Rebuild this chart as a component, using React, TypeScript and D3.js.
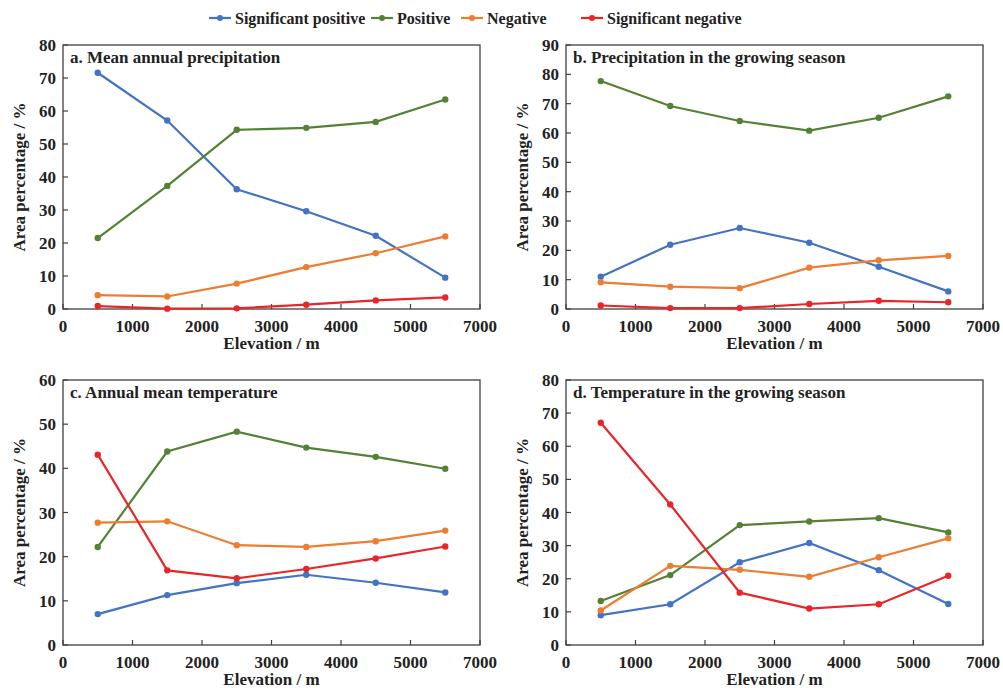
import React from 'react'
import * as d3 from 'd3'

const elevations = [500, 1500, 2500, 3500, 4500, 5500]
const seriesNames = ['Significant positive', 'Positive', 'Negative', 'Significant negative']
const colors = ['#4472C4', '#548235', '#ED7D31', '#E8262A']
// the original axis ends in "7000" where 6000 would sit
const xTickValues = [0, 1000, 2000, 3000, 4000, 5000, 6000]
const xTickLabels = ['0', '1000', '2000', '3000', '4000', '5000', '7000']

// panel a: mean annual precipitation
const aSigPos = [71.6, 57.1, 36.3, 29.6, 22.2, 9.5]
const aPos = [21.5, 37.3, 54.3, 54.9, 56.7, 63.5]
const aNeg = [4.2, 3.8, 7.7, 12.7, 16.9, 22.0]
const aSigNeg = [0.9, 0.1, 0.2, 1.3, 2.6, 3.5]

// panel b: precipitation in the growing season
const bSigPos = [11.0, 21.9, 27.6, 22.6, 14.4, 6.0]
const bPos = [77.7, 69.2, 64.1, 60.8, 65.2, 72.5]
const bNeg = [9.1, 7.6, 7.1, 14.1, 16.6, 18.1]
const bSigNeg = [1.2, 0.3, 0.3, 1.7, 2.8, 2.3]

// panel c: annual mean temperature
const cSigPos = [7.0, 11.3, 14.0, 15.9, 14.1, 11.9]
const cPos = [22.2, 43.8, 48.3, 44.7, 42.6, 39.9]
const cNeg = [27.7, 28.0, 22.6, 22.2, 23.5, 25.9]
const cSigNeg = [43.1, 16.9, 15.1, 17.2, 19.6, 22.3]

// panel d: temperature in the growing season
const dSigPos = [9.0, 12.3, 25.0, 30.8, 22.6, 12.4]
const dPos = [13.3, 21.1, 36.2, 37.3, 38.3, 34.0]
const dNeg = [10.4, 23.9, 22.7, 20.6, 26.5, 32.2]
const dSigNeg = [67.1, 42.4, 15.8, 11.0, 12.3, 20.9]

const panels = [
  { title: 'a. Mean annual precipitation', ymax: 80, series: [aSigPos, aPos, aNeg, aSigNeg], x0: 63, x1: 480, y0: 45, y1: 309 },
  { title: 'b. Precipitation in the growing season', ymax: 90, series: [bSigPos, bPos, bNeg, bSigNeg], x0: 566, x1: 983, y0: 45, y1: 309 },
  { title: 'c. Annual mean temperature', ymax: 60, series: [cSigPos, cPos, cNeg, cSigNeg], x0: 63, x1: 480, y0: 380, y1: 645 },
  { title: 'd. Temperature in the growing season', ymax: 80, series: [dSigPos, dPos, dNeg, dSigNeg], x0: 566, x1: 983, y0: 380, y1: 645 },
]

const font = 'Liberation Serif, DejaVu Serif, serif'
const axisColor = '#404040'
const textColor = '#222'

function T(props: any) {
  return <text fontFamily={font} fontSize={17} fontWeight="bold" fill={textColor} {...props} />
}

function Panel({ p }: { p: typeof panels[0] }) {
  const x = d3.scaleLinear().domain([0, 6000]).range([p.x0, p.x1])
  const y = d3.scaleLinear().domain([0, p.ymax]).range([p.y1, p.y0])
  const line = d3.line<number>().x((_, i) => x(elevations[i])).y(d => y(d))
  const yTicks = d3.range(0, p.ymax + 1, 10)
  return (
    <g>
      {xTickValues.map((t, i) => (
        <g key={'x' + t}>
          <line x1={x(t)} x2={x(t)} y1={p.y1} y2={p.y1 - 5} stroke={axisColor} strokeWidth={1.2} />
          <T x={x(t)} y={p.y1 + 23} textAnchor="middle">{xTickLabels[i]}</T>
        </g>
      ))}
      {yTicks.map(t => (
        <g key={'y' + t}>
          <line x1={p.x0} x2={p.x0 + 5} y1={y(t)} y2={y(t)} stroke={axisColor} strokeWidth={1.2} />
          <T x={p.x0 - 7} y={y(t) + 6} textAnchor="end">{t}</T>
        </g>
      ))}
      <rect x={p.x0} y={p.y0} width={p.x1 - p.x0} height={p.y1 - p.y0} fill="none" stroke={axisColor} strokeWidth={1.3} />
      <T x={p.x0 + 7} y={p.y0 + 18}>{p.title}</T>
      <T x={(p.x0 + p.x1) / 2} y={p.y1 + 40} textAnchor="middle">Elevation / m</T>
      <T transform={`translate(${p.x0 - 38},${(p.y0 + p.y1) / 2}) rotate(-90)`} textAnchor="middle">Area percentage / %</T>
      {p.series.map((s, k) => (
        <g key={k}>
          <path d={line(s) || ''} fill="none" stroke={colors[k]} strokeWidth={2.2} />
          {s.map((v, i) => (
            <circle key={i} cx={x(elevations[i])} cy={y(v)} r={3.2} fill={colors[k]} />
          ))}
        </g>
      ))}
    </g>
  )
}

export default function App() {
  const legendX = [209, 371, 461, 581]
  return (
    <svg width={1003} height={688} style={{ position: 'absolute', left: 0, top: 0, background: '#fff' }}>
      <rect width={1003} height={688} fill="#fff" />
      {seriesNames.map((n, k) => (
        <g key={n}>
          <line x1={legendX[k]} x2={legendX[k] + 22} y1={18} y2={18} stroke={colors[k]} strokeWidth={2.2} />
          <circle cx={legendX[k] + 11} cy={18} r={3} fill={colors[k]} />
          <T x={legendX[k] + 26} y={24} fontSize={16}>{n}</T>
        </g>
      ))}
      {panels.map(p => <Panel key={p.title} p={p} />)}
    </svg>
  )
}
